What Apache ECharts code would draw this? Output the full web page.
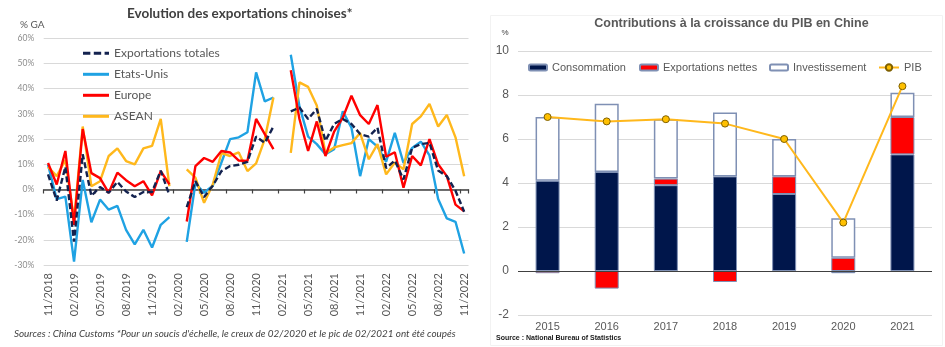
<!DOCTYPE html>
<html>
<head>
<meta charset="utf-8">
<script src="https://cdn.jsdelivr.net/npm/echarts@6.0.0/dist/echarts.min.js"></script>
<style>
  html, body { margin: 0; padding: 0; background: #ffffff; }
  #chart { width: 945px; height: 347px; }
</style>
</head>
<body>
<div id="chart"></div>
<script>
// ---- Left panel: monthly export growth (% y/y), 11/2018 .. 11/2022 ----
const months = [];
for (let y = 2018, m = 11; y < 2022 || (y === 2022 && m <= 11); m++) {
  if (m > 12) { m = 1; y++; }
  if (y === 2022 && m > 11) break;
  months.push((m < 10 ? '0' + m : '' + m) + '/' + y);
}

// null = month removed (02/2020 trough, 02/2021 peak)
const exportsTotal = [6, -4.4, 9, -20.7, 14, -2.5, 1, -1.3, 3, -0.8, -3, -1, -1, 7.5, -2.3, null,
  -7, 3.3, -3, 1.5, 7.3, 9.3, 9.8, 11, 21, 18.5, 25, null,
  31, 32.5, 28, 32, 19.3, 26, 28, 26, 22, 21, 24.5, 8.5, 11.5, 4, 16.5, 18, 18.5, 7.5, 5.3, -0.5, -8.8];
const exportsUS = [9.8, -3.8, -2.8, -28.6, 3.8, -13, -4, -8, -6.5, -16, -21.8, -16, -23, -14, -11, null,
  -20.8, 2.5, -1.3, 1.5, 10.7, 20, 20.7, 22.7, 46.5, 35, 36.5, null,
  53.5, 33, 21, 18, 14, 16, 31, 24.5, 5.3, 20, 17, 11, 22.5, 10.5, 16.5, 19, 13.5, -3.8, -11.5, -12.8, -25.4];
const exportsEurope = [10.5, 2, 15.3, -14, 24, 6.5, 4.5, -1.3, 6.7, 3.7, 1.3, 3.3, -2.3, 7.3, 2, null,
  -12.7, 9.3, 12.5, 11, 15.3, 14.7, 11.5, 11.3, 28, 22, 16, null,
  47.3, 28, 15.3, 27, 13.3, 23, 28.5, 37.2, 29.5, 26, 33.5, 13, 14.8, 0.7, 13.3, 9.6, 20, 10, 5.3, -6, -8.7];
const exportsASEAN = [9, 5.3, 11.7, -12, 25, 1.3, 3.3, 13.3, 16.3, 11.3, 10, 16.3, 17.3, 28, 1.3, null,
  8, 4.7, -5.3, 2, 14.4, 13.3, 14.7, 7.3, 10.4, 20, 36.5, null,
  14.5, 42.5, 40.7, 33.3, 14.4, 16.7, 17.6, 18.4, 22.4, 12, 18, 6, 10.7, 8, 26, 29, 34, 25, 29.6, 20.7, 5.3];
const pctTicks = { min: -30, max: 60, step: 10 };

// ---- Right panel: contributions to GDP growth (pp) ----
const years = ['2015', '2016', '2017', '2018', '2019', '2020', '2021'];
const consommation = [4.1, 4.5, 3.9, 4.3, 3.5, -0.1, 5.3];
const exportationsNettes = [-0.1, -0.8, 0.3, -0.5, 0.8, 0.6, 1.7];
const investissement = [2.9, 3.1, 2.7, 2.9, 1.7, 1.8, 1.1];
const pib = [7.0, 6.8, 6.9, 6.7, 6.0, 2.2, 8.4];
const gdpTicks = { min: -2, max: 10, step: 2 };

const C_NAVY = '#13224f', C_BLUE = '#1fa2e3', C_RED = '#ff0000', C_GOLD = '#ffb81c';
const C_BAR_NAVY = '#00164b';
const F_LEFT = 'Lato, "Open Sans", sans-serif';
const F_RIGHT = '"Liberation Sans", Arial, sans-serif';

// legend glyph for the dashed series
const DASH_ICON = 'path://M0,0h7.5v3h-7.5zM11,0h7.5v3h-7.5zM22,0h4.5v3h-4.5z';

const chart = echarts.init(document.getElementById('chart'), null, { renderer: 'canvas' });

function lineSeries(name, data, color, dashed) {
  return {
    name, type: 'line', data,
    xAxisIndex: 0, yAxisIndex: 0,
    symbol: 'none', connectNulls: false, smooth: false,
    lineStyle: { color, width: 2.4, type: dashed ? [6, 3] : 'solid', cap: 'butt' },
    itemStyle: { color },
    emphasis: { disabled: true },
    z: dashed ? 6 : 3
  };
}

const barBorder = '#7f90b4';
const smallLegend = (name, left, w, h, icon) => ({
  left, top: 62, padding: 0, itemWidth: w, itemHeight: h, data: [icon ? { name, icon } : name],
  textStyle: { fontSize: 11, color: '#595959', fontFamily: F_RIGHT }, selectedMode: false
});

const option = {
  animation: false,
  backgroundColor: '#ffffff',
  grid: [
    { left: 43.7, top: 38.3, width: 424.8, height: 226.8, containLabel: false, outerBoundsMode: 'none' },
    { left: 518, top: 51, width: 414, height: 264, containLabel: false, outerBoundsMode: 'none' }
  ],
  xAxis: [
    { // month labels under the plot
      type: 'category', gridIndex: 0, data: months, position: 'bottom', boundaryGap: true,
      axisLine: { show: false, onZero: false }, axisTick: { show: false },
      axisLabel: { interval: 2, rotate: 90, margin: 8, fontSize: 11, color: '#595959', fontFamily: F_LEFT },
      splitLine: { show: false }
    },
    { // zero line with quarterly ticks
      type: 'category', gridIndex: 0, data: months, position: 'top', boundaryGap: true,
      axisLine: { show: true, onZero: true, lineStyle: { color: '#404040', width: 1.5 } },
      axisTick: { show: true, interval: 2, inside: true, length: 4, lineStyle: { color: '#404040', width: 1.2 } },
      axisLabel: { show: false }, splitLine: { show: false }
    },
    {
      type: 'category', gridIndex: 1, data: years, position: 'bottom', boundaryGap: true,
      axisLine: { show: false, onZero: false }, axisTick: { show: false },
      axisLabel: { margin: 6, fontSize: 11, color: '#595959', fontFamily: F_RIGHT },
      splitLine: { show: false }
    }
  ],
  yAxis: [
    {
      type: 'value', gridIndex: 0, min: pctTicks.min, max: pctTicks.max, interval: pctTicks.step,
      axisLine: { show: false }, axisTick: { show: false },
      axisLabel: { formatter: '{value}%', fontSize: 8.5, color: '#8c8c8c', margin: 9.5, fontFamily: F_LEFT },
      splitLine: { lineStyle: { color: '#d9d9d9', width: 1 } }
    },
    {
      type: 'value', gridIndex: 1, min: gdpTicks.min, max: gdpTicks.max, interval: gdpTicks.step,
      axisLine: { show: false }, axisTick: { show: false },
      axisLabel: { fontSize: 12, color: '#595959', margin: 9, fontFamily: F_RIGHT },
      splitLine: { lineStyle: { color: '#d9d9d9', width: 1 } }
    }
  ],
  legend: [
    {
      orient: 'vertical', left: 83, top: 47.3, padding: 0, itemWidth: 26, itemHeight: 3, itemGap: 9,
      data: [
        { name: 'Exportations totales', icon: DASH_ICON },
        { name: 'Etats-Unis', icon: 'rect' },
        { name: 'Europe', icon: 'rect' },
        { name: 'ASEAN', icon: 'rect' }
      ],
      textStyle: { fontSize: 12, color: '#595959', fontFamily: F_LEFT },
      selectedMode: false
    },
    smallLegend('Consommation', 528, 18, 6),
    smallLegend('Exportations nettes', 639, 18, 6),
    smallLegend('Investissement', 769, 18, 6),
    smallLegend('PIB', 878, 20, 8)
  ],
  series: [
    lineSeries('Etats-Unis', exportsUS, C_BLUE, false),
    lineSeries('ASEAN', exportsASEAN, C_GOLD, false),
    lineSeries('Europe', exportsEurope, C_RED, false),
    lineSeries('Exportations totales', exportsTotal, C_NAVY, true),
    {
      name: 'Consommation', type: 'bar', xAxisIndex: 2, yAxisIndex: 1, stack: 'pib',
      data: consommation, barWidth: 24,
      itemStyle: { color: C_BAR_NAVY, borderColor: barBorder, borderWidth: 1 },
      emphasis: { disabled: true },
      markLine: {
        silent: true, symbol: 'none', label: { show: false },
        lineStyle: { color: '#404040', width: 1, type: 'solid' },
        data: [{ yAxis: 0 }], z: 10
      }
    },
    {
      name: 'Exportations nettes', type: 'bar', xAxisIndex: 2, yAxisIndex: 1, stack: 'pib',
      data: exportationsNettes, barWidth: 24,
      itemStyle: { color: C_RED, borderColor: barBorder, borderWidth: 1 },
      emphasis: { disabled: true }
    },
    {
      name: 'Investissement', type: 'bar', xAxisIndex: 2, yAxisIndex: 1, stack: 'pib',
      data: investissement, barWidth: 24,
      itemStyle: { color: '#ffffff', borderColor: barBorder, borderWidth: 1.5 },
      emphasis: { disabled: true }
    },
    {
      name: 'PIB', type: 'line', xAxisIndex: 2, yAxisIndex: 1, data: pib,
      symbol: 'circle', symbolSize: 7,
      lineStyle: { color: C_GOLD, width: 2 },
      itemStyle: { color: '#ffc000', borderColor: '#7f6000', borderWidth: 1 },
      emphasis: { disabled: true }, z: 8
    }
  ],
  graphic: [
    {
      type: 'rect', shape: { x: 490.5, y: 15.5, width: 452, height: 330 },
      style: { fill: 'none', stroke: '#f2f2f2', lineWidth: 1 }, silent: true, z: -1
    },
    {
      type: 'text', x: 239.7, y: 14,
      style: { text: 'Evolution des exportations chinoises*', font: 'bold 13.5px ' + F_LEFT, fill: '#404040', align: 'center', verticalAlign: 'middle' }
    },
    {
      type: 'text', x: 20, y: 25,
      style: { text: '% GA', font: '10px ' + F_LEFT, fill: '#595959', align: 'left', verticalAlign: 'middle' }
    },
    {
      type: 'text', x: 14, y: 334.3,
      style: { text: "Sources : China Customs *Pour un soucis d'échelle, le creux de 02/2020 et le pic de 02/2021 ont été coupés", font: 'italic 9.9px ' + F_LEFT, fill: '#404040', align: 'left', verticalAlign: 'middle' }
    },
    {
      type: 'text', x: 731.5, y: 24,
      style: { text: 'Contributions à la croissance du PIB en Chine', font: 'bold 12.5px ' + F_RIGHT, fill: '#595959', align: 'center', verticalAlign: 'middle' }
    },
    {
      type: 'text', x: 505, y: 33,
      style: { text: '%', font: '8px ' + F_RIGHT, fill: '#404040', align: 'center', verticalAlign: 'middle' }
    },
    {
      type: 'text', x: 496, y: 338.5,
      style: { text: 'Source : National Bureau of Statistics', font: 'bold 7px ' + F_RIGHT, fill: '#1a1a1a', align: 'left', verticalAlign: 'middle' }
    }
  ]
};

chart.setOption(option);
</script>
</body>
</html>
